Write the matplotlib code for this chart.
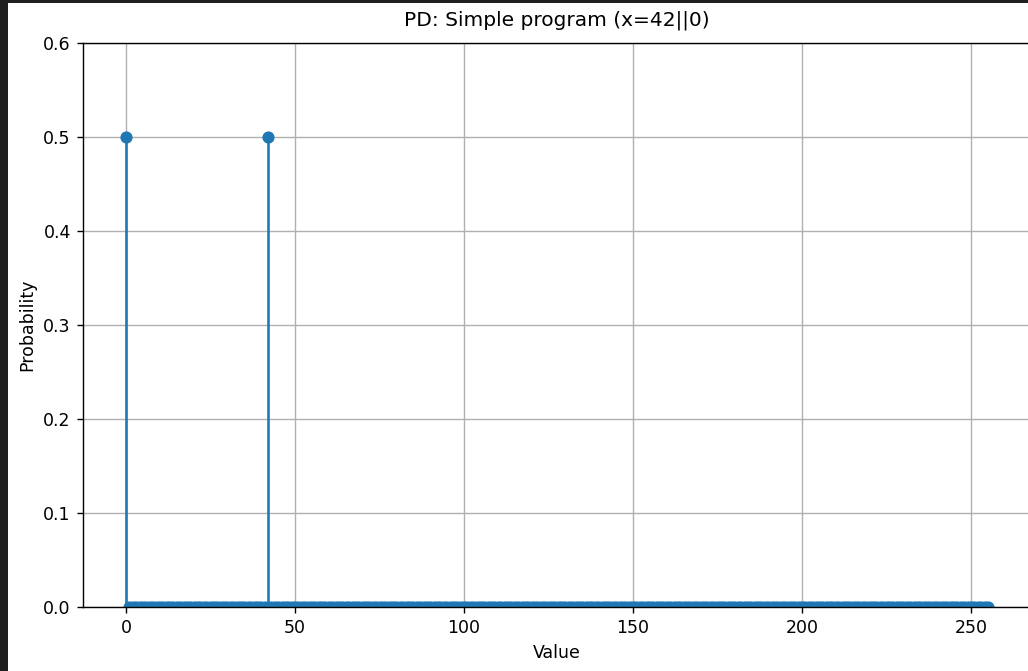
import numpy as np
import matplotlib
matplotlib.use("Agg")
import matplotlib.pyplot as plt
from matplotlib.patches import Rectangle

# Distribuição de probabilidade do programa simples (x = 42 || 0)
valores = np.arange(256)
picos = [0, 42]
probPicos = [0.5, 0.5]

probabilidades = np.zeros(len(valores))
for v, p in zip(picos, probPicos):
    probabilidades[v] = p

dpi = 125
fig = plt.figure(figsize=(1028 / dpi, 671 / dpi), dpi=dpi)

# Faixa escura da captura de tela (bordas do notebook)
fig.patches.append(Rectangle((0, 0), 8 / 1028, 1, transform=fig.transFigure,
                             facecolor="#1f1f1f", edgecolor="none", zorder=10))
fig.patches.append(Rectangle((0, 1 - 3 / 671), 1, 3 / 671, transform=fig.transFigure,
                             facecolor="#1f1f1f", edgecolor="none", zorder=10))

ax = fig.add_axes([83 / 1028, 64 / 671, 948 / 1028, 564 / 671])
ax.stem(valores, probabilidades, basefmt="C0-")
ax.set_ylim(0, 0.6)
ax.set_title("PD: Simple program (x=42||0)", fontsize=11.6, pad=10)
ax.set_xlabel("Value")
ax.set_ylabel("Probability")
ax.grid(True)

plt.savefig("out.png", dpi=dpi)
plt.close()
